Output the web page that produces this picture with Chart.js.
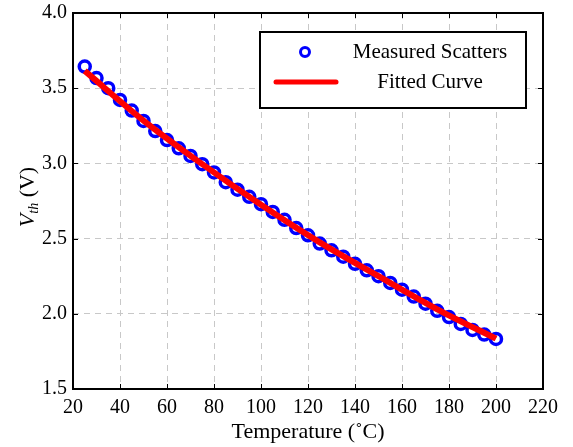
<!DOCTYPE html>
<html>
<head>
<meta charset="utf-8">
<script src="https://cdn.jsdelivr.net/npm/chart.js@4.4.1/dist/chart.umd.min.js"></script>
<style>
html,body{margin:0;padding:0;background:#fff;}
#wrap{width:573px;height:447px;position:relative;}
canvas{display:block;}
</style>
</head>
<body>
<div id="wrap"><canvas id="c" width="573" height="447"></canvas></div>
<script>
// ---- data ----
const temperatures = [25,30,35,40,45,50,55,60,65,70,75,80,85,90,95,100,105,110,115,120,125,130,135,140,145,150,155,160,165,170,175,180,185,190,195,200];
const measuredVth = [3.644,3.567,3.500,3.422,3.351,3.282,3.215,3.155,3.100,3.050,2.995,2.940,2.875,2.825,2.778,2.729,2.677,2.625,2.570,2.522,2.467,2.422,2.380,2.332,2.289,2.250,2.205,2.160,2.115,2.067,2.020,1.978,1.933,1.893,1.862,1.833];
const fitTemperatures = [25,50,75,100,125,150,175,200];
const fittedVth = [3.615,3.285,2.995,2.725,2.475,2.250,2.030,1.835];
const xTicks = [20,40,60,80,100,120,140,160,180,200,220];
const yTicks = [1.5,2.0,2.5,3.0,3.5,4.0];
const seriesNames = ['Measured Scatters','Fitted Curve'];
const xTitle = 'Temperature (\u02DAC)';

const SERIF = "'Liberation Serif','Times New Roman',serif";

const framePlugin = {
  id: 'frame',
  afterDraw(chart) {
    const {ctx, chartArea: a, scales: {x, y}} = chart;
    ctx.save();
    // inner tick marks
    ctx.strokeStyle = '#000';
    ctx.lineWidth = 1;
    ctx.beginPath();
    xTicks.forEach(v => {
      const px = Math.round(x.getPixelForValue(v)) + 0.5;
      ctx.moveTo(px, a.bottom); ctx.lineTo(px, a.bottom - 5);
      ctx.moveTo(px, a.top); ctx.lineTo(px, a.top + 5);
    });
    yTicks.forEach(v => {
      const py = Math.round(y.getPixelForValue(v)) + 0.5;
      ctx.moveTo(a.left, py); ctx.lineTo(a.left + 5, py);
      ctx.moveTo(a.right, py); ctx.lineTo(a.right - 5, py);
    });
    ctx.stroke();
    // frame
    ctx.lineWidth = 2;
    ctx.strokeRect(a.left, a.top, a.right - a.left, a.bottom - a.top);

    // legend
    const ds0 = chart.data.datasets[1]; // scatter
    const ds1 = chart.data.datasets[0]; // fitted line
    const bw = 266, bh = 76;
    const bx = a.right - 17 - bw, by = a.top + 19;
    ctx.fillStyle = '#fff';
    ctx.fillRect(bx, by, bw, bh);
    ctx.strokeStyle = '#000';
    ctx.lineWidth = 2;
    ctx.strokeRect(bx, by, bw, bh);
    // marker
    ctx.beginPath();
    ctx.arc(bx + 45, by + 20, 4.5, 0, Math.PI * 2);
    ctx.strokeStyle = ds0.pointBorderColor;
    ctx.lineWidth = 3;
    ctx.stroke();
    // line
    ctx.beginPath();
    ctx.moveTo(bx + 16, by + 50);
    ctx.lineTo(bx + 76, by + 50);
    ctx.strokeStyle = ds1.borderColor;
    ctx.lineWidth = 5;
    ctx.lineCap = 'round';
    ctx.stroke();
    ctx.lineCap = 'butt';
    ctx.fillStyle = '#000';
    ctx.font = "21px " + SERIF;
    ctx.textAlign = 'center';
    ctx.textBaseline = 'middle';
    ctx.fillText(ds0.label, bx + 170, by + 20);
    ctx.fillText(ds1.label, bx + 170, by + 50);

    // y axis title: V_th (V)
    ctx.save();
    const cx = 27, cy = (a.top + a.bottom) / 2 - 4;
    ctx.translate(cx, cy);
    ctx.rotate(-Math.PI / 2);
    const fV = "italic 22px " + SERIF, fSub = "italic 14px " + SERIF, fR = "22px " + SERIF;
    ctx.font = fV; const wV = ctx.measureText('V').width;
    ctx.font = fSub; const wS = ctx.measureText('th').width;
    ctx.font = fR; const wR = ctx.measureText(' (V)').width;
    let sx = -(wV + wS + wR) / 2;
    ctx.textAlign = 'left';
    ctx.textBaseline = 'alphabetic';
    ctx.font = fV; ctx.fillText('V', sx, 7); sx += wV;
    ctx.font = fSub; ctx.fillText('th', sx, 11); sx += wS;
    ctx.font = fR; ctx.fillText(' (V)', sx, 7);
    ctx.restore();

    ctx.restore();
  }
};

const chart = new Chart(document.getElementById('c'), {
  type: 'scatter',
  data: {
    datasets: [
      {
        label: seriesNames[1],
        data: fitTemperatures.map((t, i) => ({x: t, y: fittedVth[i]})),
        showLine: true,
        borderColor: '#ff0000',
        backgroundColor: '#ff0000',
        borderWidth: 6,
        pointRadius: 0,
        cubicInterpolationMode: 'monotone',
        order: 1
      },
      {
        label: seriesNames[0],
        data: temperatures.map((t, i) => ({x: t, y: measuredVth[i]})),
        showLine: false,
        borderColor: '#0000ff',
        backgroundColor: 'rgba(0,0,0,0)',
        pointRadius: 5.5,
        pointBorderWidth: 3.5,
        pointBackgroundColor: 'rgba(0,0,0,0)',
        pointBorderColor: '#0000ff',
        order: 2
      }
    ]
  },
  options: {
    responsive: false,
    animation: false,
    devicePixelRatio: 1,
    layout: {padding: {top: 13, right: 30, left: 0, bottom: 0}},
    plugins: {legend: {display: false}, tooltip: {enabled: false}},
    scales: {
      x: {
        type: 'linear',
        min: 20, max: 220,
        afterBuildTicks: s => { s.ticks = xTicks.map(v => ({value: v})); },
        afterFit: s => { s.height = 447 - 389; },
        grid: {color: '#c8c8c8', lineWidth: 1, drawTicks: false},
        border: {display: false, dash: [6, 5]},
        ticks: {color: '#000', padding: 7, maxRotation: 0, font: {family: SERIF, size: 20}},
        title: {display: true, text: xTitle, color: '#000', padding: {top: 0, bottom: 2}, font: {family: SERIF, size: 22}}
      },
      y: {
        type: 'linear',
        min: 1.5, max: 4.0,
        afterBuildTicks: s => { s.ticks = yTicks.map(v => ({value: v})); },
        afterFit: s => { s.width = 73; s.paddingTop = 0; s.paddingBottom = 0; },
        grid: {color: '#c8c8c8', lineWidth: 1, drawTicks: false},
        border: {display: false, dash: [6, 5]},
        ticks: {color: '#000', padding: 6, font: {family: SERIF, size: 20, lineHeight: 1}, callback: v => Number(v).toFixed(1)},
        title: {display: false}
      }
    }
  },
  plugins: [framePlugin]
});
</script>
</body>
</html>
